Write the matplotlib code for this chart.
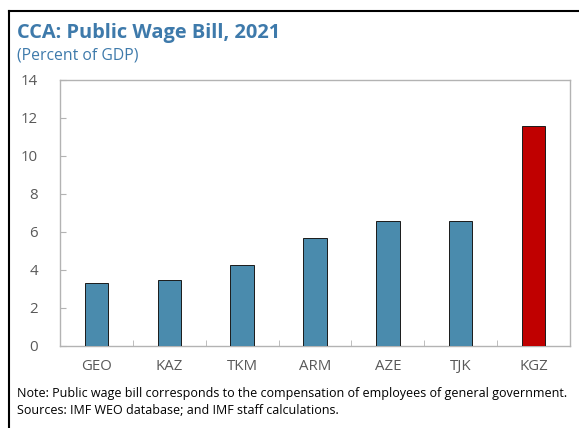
import matplotlib
matplotlib.use("Agg")
import matplotlib.pyplot as plt
from matplotlib.lines import Line2D

plt.rcParams["font.family"] = ["Open Sans", "DejaVu Sans"]

countries = ["GEO", "KAZ", "TKM", "ARM", "AZE", "TJK", "KGZ"]
wage_bill = [3.30, 3.45, 4.23, 5.67, 6.55, 6.58, 11.58]
highlight = "KGZ"

BLUE = "#4a8bad"
RED = "#c00000"
TITLE = "#3e7aab"
GREY_TXT = "#595959"
SPINE = "#b3b3b3"

W, H = 579, 428
fig = plt.figure(figsize=(W / 100, H / 100), dpi=100)

# axes box in pixel coords
x0, x1, y0, y1 = 60, 570, 80, 345.5
ax = fig.add_axes([x0 / W, 1 - y1 / H, (x1 - x0) / W, (y1 - y0) / H])

colors = [RED if c == highlight else BLUE for c in countries]
xs = range(len(countries))
ax.bar(xs, wage_bill, width=0.32, color=colors, edgecolor="#1a1a1a", linewidth=0.7, zorder=3)

ax.set_xlim(-0.5, len(countries) - 0.5)
ax.set_ylim(0, 14)
ax.set_yticks(range(0, 15, 2))
ax.set_xticks(list(xs))
ax.set_xticklabels(countries)
ax.set_xticks([i + 0.5 for i in range(len(countries) - 1)], minor=True)

for s in ax.spines.values():
    s.set_color(SPINE)
    s.set_linewidth(1.0)

ax.tick_params(axis="y", direction="in", length=4, color=SPINE, labelcolor=GREY_TXT,
               labelsize=10.8, pad=16)
ax.tick_params(axis="x", which="major", length=0, labelcolor=GREY_TXT, labelsize=10.8, pad=10)
ax.tick_params(axis="x", which="minor", direction="in", length=4, color=SPINE)

fig.text(17 / W, 1 - 33 / H, "CCA: Public Wage Bill, 2021", color=TITLE,
         fontsize=14.4, fontweight="bold", va="center", ha="left")
fig.text(17 / W, 1 - 56 / H, "(Percent of GDP)", color=TITLE,
         fontsize=11.3, va="center", ha="left")

fig.text(17 / W, 1 - 393 / H,
         "Note: Public wage bill corresponds to the compensation of employees of general government.",
         fontsize=9.0, va="center", ha="left", color="black")
fig.text(17 / W, 1 - 411 / H,
         "Sources: IMF WEO database; and IMF staff calculations.",
         fontsize=9.0, va="center", ha="left", color="black")

# outer frame on the left and top edges
fig.add_artist(Line2D([9 / W, 9 / W], [0, 1 - 11 / H], color="black", linewidth=1.5,
                      transform=fig.transFigure))
fig.add_artist(Line2D([9 / W, 1], [1 - 11 / H, 1 - 11 / H], color="black", linewidth=1.5,
                      transform=fig.transFigure))

fig.savefig("out.png", dpi=100)
